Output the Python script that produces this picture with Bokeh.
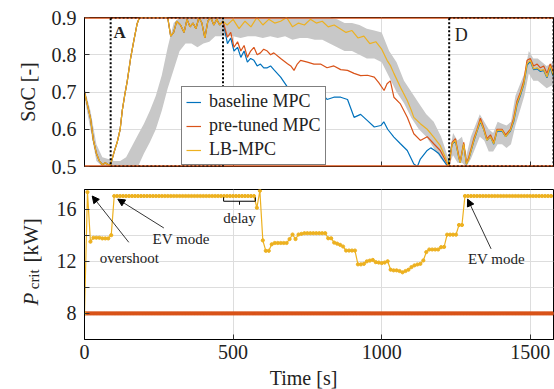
from bokeh.plotting import figure
from bokeh.layouts import column, row
from bokeh.models import (Range1d, Legend, LegendItem, Label, Arrow, NormalHead,
                          BoxAnnotation, FixedTicker, Span)
from bokeh.core.properties import value
from bokeh.embed import file_html
from bokeh.resources import INLINE
import math

# ---------------- data ----------------
X_MAX = 1578
SOC_MIN, SOC_MAX = 0.5, 0.9
BOX_A = (88, 466)
BOX_D = (1227, 1578)

# common early trajectory (all three controllers overlap)
early_t = [0, 10, 20, 30, 40, 50, 60, 70, 80, 87, 100, 110, 120, 127, 135, 144, 155, 166, 177,
           185, 200, 220, 240, 260, 280, 290, 300, 310, 323, 335, 345, 355, 365, 375, 385, 395,
           405, 415, 425, 435, 445, 455, 466]
early_soc = [0.70, 0.665, 0.63, 0.57, 0.535, 0.515, 0.505, 0.51, 0.505, 0.503, 0.54, 0.565, 0.60,
             0.65, 0.69, 0.73, 0.79, 0.838, 0.883, 0.9, 0.9, 0.9, 0.9, 0.9, 0.9, 0.85, 0.86, 0.89,
             0.88, 0.86, 0.895, 0.875, 0.885, 0.87, 0.9, 0.885, 0.845, 0.89, 0.9, 0.88, 0.895,
             0.88, 0.89]

lb_tail_t = [480, 500, 520, 540, 560, 580, 600, 620, 640, 660, 680, 700, 720, 740, 760, 780, 800,
             820, 840, 860, 880, 900, 920, 940, 960, 980, 1000, 1018, 1030, 1041, 1063, 1086, 1100,
             1108, 1130, 1153, 1175, 1197, 1214, 1225, 1237, 1248, 1259, 1264, 1276, 1285, 1293,
             1310, 1321, 1332, 1343, 1354, 1366, 1377, 1388, 1405, 1417, 1433, 1444, 1455, 1467,
             1478, 1489, 1500, 1511, 1523, 1534, 1545, 1556, 1567, 1577]
lb_tail_soc = [0.88, 0.895, 0.87, 0.89, 0.875, 0.9, 0.88, 0.895, 0.885, 0.89, 0.9, 0.875, 0.885,
               0.88, 0.895, 0.885, 0.89, 0.875, 0.88, 0.87, 0.86, 0.865, 0.845, 0.85, 0.83, 0.835,
               0.815, 0.785, 0.77, 0.75, 0.713, 0.677, 0.65, 0.632, 0.615, 0.60, 0.579, 0.556,
               0.525, 0.50, 0.561, 0.57, 0.525, 0.51, 0.561, 0.506, 0.52, 0.57, 0.597, 0.623, 0.60,
               0.57, 0.58, 0.561, 0.597, 0.597, 0.58, 0.597, 0.623, 0.668, 0.695, 0.722, 0.776,
               0.785, 0.762, 0.765, 0.758, 0.76, 0.74, 0.77, 0.745]

pt_tail_t = [481, 492, 503, 515, 526, 537, 548, 559, 570, 581, 592, 603, 615, 626, 637, 660, 683,
             694, 705, 716, 727, 750, 772, 794, 816, 839, 862, 885, 907, 929, 952, 975, 990, 1008,
             1018, 1029, 1041, 1063, 1086, 1108, 1130, 1153, 1175, 1197, 1220, 1227, 1237, 1248,
             1259, 1264, 1276, 1285, 1293, 1310, 1321, 1332, 1343, 1354, 1366, 1377, 1388, 1405,
             1417, 1433, 1444, 1455, 1467, 1478, 1489, 1500, 1511, 1523, 1534, 1545, 1556, 1567,
             1577]
pt_tail_soc = [0.847, 0.86, 0.82, 0.835, 0.81, 0.825, 0.793, 0.81, 0.82, 0.80, 0.805, 0.815, 0.81,
               0.80, 0.805, 0.79, 0.776, 0.77, 0.758, 0.775, 0.785, 0.78, 0.775, 0.775, 0.765,
               0.77, 0.76, 0.758, 0.75, 0.744, 0.745, 0.74, 0.725, 0.704, 0.722, 0.73, 0.686,
               0.668, 0.632, 0.588, 0.57, 0.58, 0.561, 0.543, 0.508, 0.50, 0.565, 0.575, 0.53,
               0.512, 0.565, 0.508, 0.525, 0.575, 0.60, 0.63, 0.605, 0.575, 0.585, 0.565, 0.60,
               0.60, 0.585, 0.60, 0.63, 0.675, 0.70, 0.73, 0.785, 0.79, 0.77, 0.775, 0.765, 0.77,
               0.75, 0.775, 0.755]

bl_tail_t = [481, 492, 503, 515, 526, 537, 548, 559, 570, 581, 592, 603, 615, 626, 637, 660, 683,
             705, 727, 750, 772, 794, 816, 839, 862, 885, 907, 929, 952, 975, 997, 1007, 1020,
             1041, 1063, 1086, 1108, 1120, 1130, 1153, 1165, 1175, 1192, 1209, 1222, 1237, 1248,
             1259, 1264, 1276, 1285, 1293, 1310, 1321, 1332, 1343, 1354, 1366, 1377, 1388, 1405,
             1417, 1433, 1444, 1455, 1467, 1478, 1489, 1500, 1511, 1523, 1534, 1545, 1556, 1567,
             1577]
bl_tail_soc = [0.83, 0.845, 0.81, 0.82, 0.793, 0.81, 0.78, 0.79, 0.785, 0.77, 0.775, 0.765, 0.765,
               0.77, 0.76, 0.74, 0.713, 0.696, 0.71, 0.70, 0.69, 0.70, 0.68, 0.686, 0.686, 0.68,
               0.632, 0.64, 0.623, 0.606, 0.61, 0.62, 0.60, 0.579, 0.561, 0.543, 0.507, 0.50,
               0.52, 0.543, 0.55, 0.545, 0.535, 0.515, 0.50, 0.56, 0.568, 0.525, 0.51, 0.56,
               0.506, 0.52, 0.568, 0.595, 0.62, 0.60, 0.57, 0.58, 0.56, 0.595, 0.595, 0.58, 0.595,
               0.62, 0.665, 0.692, 0.72, 0.772, 0.782, 0.76, 0.762, 0.755, 0.758, 0.738, 0.765,
               0.742]

band_t = [0, 20, 40, 60, 80, 100, 120, 140, 160, 180, 200, 220, 240, 260, 280, 300, 320, 340,
          360, 380, 400, 420, 440, 460, 480, 500, 525, 550, 575, 600, 625, 650, 675, 700, 725,
          750, 775, 800, 825, 850, 875, 900, 925, 950, 975, 1000, 1025, 1050, 1075, 1100, 1125,
          1150, 1175, 1200, 1225, 1240, 1255, 1270, 1285, 1300, 1315, 1330, 1345, 1360, 1375,
          1390, 1405, 1420, 1435, 1450, 1465, 1480, 1495, 1510, 1525, 1540, 1555, 1578]
band_lo = [0.685, 0.60, 0.515, 0.50, 0.50, 0.50, 0.50, 0.50, 0.50, 0.50, 0.535, 0.565, 0.60, 0.65,
           0.71, 0.76, 0.81, 0.83, 0.83, 0.82, 0.83, 0.835, 0.85, 0.85, 0.85, 0.85, 0.845, 0.85,
           0.85, 0.845, 0.85, 0.845, 0.85, 0.84, 0.845, 0.845, 0.84, 0.84, 0.83, 0.82, 0.81,
           0.81, 0.80, 0.79, 0.79, 0.78, 0.74, 0.70, 0.67, 0.63, 0.60, 0.58, 0.55, 0.52, 0.50,
           0.53, 0.51, 0.51, 0.50, 0.52, 0.55, 0.58, 0.57, 0.54, 0.54, 0.56, 0.56, 0.55, 0.56,
           0.61, 0.65, 0.69, 0.75, 0.73, 0.73, 0.72, 0.71, 0.72]
band_hi = [0.71, 0.65, 0.56, 0.525, 0.52, 0.515, 0.515, 0.525, 0.555, 0.585, 0.615, 0.65, 0.69,
           0.745, 0.82, 0.885, 0.9, 0.9, 0.9, 0.9, 0.9, 0.9, 0.9, 0.9, 0.9, 0.9, 0.9, 0.9, 0.9,
           0.9, 0.9, 0.9, 0.9, 0.9, 0.9, 0.9, 0.9, 0.9, 0.9, 0.895, 0.885, 0.885, 0.88, 0.87,
           0.865, 0.86, 0.81, 0.78, 0.73, 0.70, 0.67, 0.64, 0.62, 0.58, 0.52, 0.59, 0.57, 0.58,
           0.53, 0.58, 0.61, 0.64, 0.62, 0.60, 0.59, 0.62, 0.615, 0.61, 0.62, 0.69, 0.72, 0.75,
           0.81, 0.79, 0.79, 0.78, 0.77, 0.78]

# P_crit, LB-MPC sampled every 10 s
P_STEP = 10
P_lb = ([8.0, 17.3, 13.5, 13.8, 13.8, 13.8, 13.75, 13.75, 13.75, 14.0] + [17.0] * 48 +
        [16.1, 17.4, 13.6, 12.8, 12.8, 13.3] + [13.4] * 5 + [13.7, 14.05, 13.7, 14.05, 14.1] +
        [14.15] * 8 + [13.76, 13.76, 13.43, 13.35, 13.26, 13.13] + [12.82] * 4 +
        [11.76, 11.76, 11.8, 11.99, 12.05, 12.1, 11.93, 11.9, 11.86, 11.9, 12.0] +
        [11.35, 11.3, 11.3, 11.25, 11.15, 11.25, 11.35, 11.55, 11.68, 11.75, 11.8, 12.06, 12.7] +
        [12.9] * 4 + [13.08, 13.1] + [14.04] * 4 + [14.78, 14.78] + [17.0] * 30)
t_lb = [P_STEP * i for i in range(len(P_lb))]
# P_crit of the baseline / pre-tuned MPC (fixed), sampled every 5 s
P_FIX_STEP = 5
P_fixed = [8.0] * 316
t_fixed = [P_FIX_STEP * i for i in range(len(P_fixed))]

DELAY = (468, 575)

BLUE, RED, YEL, GRAY = "#0072BD", "#D95319", "#EDB120", "#c8c8c8"
FONT = "Liberation Serif"
GRID = "#dddddd"
TXT = "#222222"


def style(p):
    p.outline_line_color = "black"
    p.outline_line_width = 1
    for ax in (p.xaxis, p.yaxis):
        ax.major_tick_in = 5
        ax.major_tick_out = 0
        ax.minor_tick_in = 5
        ax.minor_tick_out = 0
        ax.major_tick_line_color = "#333333"
        ax.minor_tick_line_color = "#333333"
        ax.axis_line_color = "black"
        ax.major_label_text_font = FONT
        ax.major_label_text_font_size = "20px"
        ax.major_label_text_color = TXT
        ax.axis_label_text_font = FONT
        ax.axis_label_text_font_style = "normal"
        ax.axis_label_text_font_size = "20px"
        ax.axis_label_text_color = TXT
    for g in (p.xgrid, p.ygrid):
        g.grid_line_color = GRID
        g.minor_grid_line_color = GRID
    p.background_fill_color = "white"
    p.border_fill_color = "white"


# ---------------- top plot ----------------
p1 = figure(width=554, height=178, x_range=Range1d(0, X_MAX), y_range=Range1d(SOC_MIN, SOC_MAX),
            output_backend="svg", toolbar_location=None,
            min_border_left=84, min_border_right=1, min_border_top=17, min_border_bottom=12)
style(p1)
p1.xaxis.ticker = FixedTicker(ticks=[], minor_ticks=[0, 500, 1000, 1500])
p1.yaxis.ticker = FixedTicker(ticks=[0.5, 0.6, 0.7, 0.8, 0.9])
p1.yaxis.major_label_standoff = 8
p1.yaxis.axis_label = "SoC [-]"
p1.yaxis.axis_label_standoff = 10

p1.varea(x=band_t, y1=band_lo, y2=band_hi, fill_color=GRAY, fill_alpha=1)
for lim in (SOC_MIN, SOC_MAX):
    p1.add_layout(Span(location=lim, dimension="width", line_color=RED, line_width=2.5))

rb = p1.line(early_t + bl_tail_t, early_soc + bl_tail_soc, line_color=BLUE, line_width=1.2)
rp = p1.line(early_t + pt_tail_t, early_soc + pt_tail_soc, line_color=RED, line_width=1.2)
ry = p1.line(early_t + lb_tail_t, early_soc + lb_tail_soc, line_color=YEL, line_width=1.2)

for (l, r) in (BOX_A, BOX_D):
    p1.add_layout(BoxAnnotation(left=l, right=r, bottom=SOC_MIN, top=SOC_MAX, fill_alpha=0,
                                line_color="black", line_alpha=1, line_width=2,
                                line_dash="2 2"))

p1.add_layout(Label(x=118, y=0.86, text="A", text_font=FONT, text_font_style="bold",
                    text_font_size="17px", text_color=TXT, text_align="center",
                    text_baseline="middle"))
p1.add_layout(Label(x=1268, y=0.852, text="D", text_font=FONT, text_font_size="18px",
                    text_color=TXT, text_align="center", text_baseline="middle"))

legend = Legend(items=[LegendItem(label="baseline MPC", renderers=[rb]),
                       LegendItem(label="pre-tuned MPC", renderers=[rp]),
                       LegendItem(label="LB-MPC", renderers=[ry])],
                location=(97, 1), border_line_color="black", border_line_width=1,
                label_text_font=FONT, label_text_font_size="18px", label_text_color=TXT,
                label_text_line_height=1.0,
                glyph_width=15, glyph_height=18, label_height=18, spacing=3, padding=4,
                margin=0, label_standoff=8, background_fill_alpha=1)
p1.add_layout(legend)

# ---------------- bottom plot ----------------
p2 = figure(width=506, height=189, x_range=Range1d(0, X_MAX), y_range=Range1d(6, 17.5),
            output_backend="svg", toolbar_location=None,
            min_border_left=36, min_border_right=1, min_border_top=11, min_border_bottom=28)
style(p2)
p2.xaxis.ticker = FixedTicker(ticks=[0, 500, 1000, 1500])
p2.xaxis.major_label_standoff = 5
p2.yaxis.ticker = FixedTicker(ticks=[8, 12, 16], minor_ticks=[10, 14])
p2.yaxis.major_label_standoff = 8

p2.line(t_fixed, P_fixed, line_color=BLUE, line_width=1.5)
p2.line(t_fixed, P_fixed, line_color=RED, line_width=1.5)
p2.scatter(t_fixed, P_fixed, size=3.2, fill_color=RED, line_color=RED)
p2.line(t_lb, P_lb, line_color=YEL, line_width=1.2)
p2.scatter(t_lb, P_lb, size=3.2, fill_color=YEL, line_color=YEL)

# delay bracket
p2.line([DELAY[0], DELAY[0], DELAY[1], DELAY[1]], [16.9, 16.6, 16.6, 16.9], line_color="black",
        line_width=1)
mid = (DELAY[0] + DELAY[1]) / 2
p2.line([mid, mid], [16.6, 16.33], line_color="black", line_width=1)

ann_font = dict(text_font=FONT, text_font_size="15px", text_color=TXT,
                text_align="center", text_baseline="middle")
p2.add_layout(Label(x=mid, y=15.3, text="delay", **ann_font))
p2.add_layout(Label(x=151, y=12.24, text="overshoot", **ann_font))
p2.add_layout(Label(x=325, y=13.71, text="EV mode", **ann_font))
p2.add_layout(Label(x=1386, y=12.14, text="EV mode", **ann_font))

for (xs, ys, xe, ye) in ((149, 13.45, 26, 17.0), (267, 14.55, 112, 16.76),
                         (1368, 12.95, 1289, 16.76)):
    p2.add_layout(Arrow(end=NormalHead(size=7, fill_color="black", line_color="black"),
                        x_start=xs, y_start=ys, x_end=xe, y_end=ye,
                        line_color="black", line_width=0.8))

# y-axis label of the bottom plot (P with subscript "crit"), in a narrow side panel
pl = figure(width=48, height=189, x_range=Range1d(0, 48), y_range=p2.y_range,
            output_backend="svg", toolbar_location=None, x_axis_type=None, y_axis_type=None,
            min_border_left=0, min_border_right=0, min_border_top=11, min_border_bottom=28)
pl.outline_line_color = None
pl.border_fill_color = "white"
rot = dict(angle=math.pi / 2, text_font=value(FONT), text_color=TXT, text_align="left",
           text_baseline="alphabetic")
pl.text(x=[30], y=[8.6], text=["P"], text_font_style="italic", text_font_size="21px", **rot)
pl.text(x=[33], y=[9.85], text=["crit"], text_font_size="15px", **rot)
pl.text(x=[30], y=[11.9], text=["[kW]"], text_font_size="21px", **rot)

# x-axis label, in a thin panel under the bottom plot
pb = figure(width=554, height=22, x_range=p2.x_range, y_range=Range1d(0, 22),
            output_backend="svg", toolbar_location=None, x_axis_type=None, y_axis_type=None,
            min_border_left=84, min_border_right=1, min_border_top=0, min_border_bottom=0)
pb.outline_line_color = None
pb.border_fill_color = "white"
pb.text(x=[737], y=[11.5], text=["Time [s]"], text_font=value(FONT), text_font_size="20px",
        text_color=TXT, text_align="center", text_baseline="middle")

layout = column(p1, row(pl, p2, spacing=0), pb, spacing=0)
open("out.html", "w").write(file_html(layout, INLINE))
